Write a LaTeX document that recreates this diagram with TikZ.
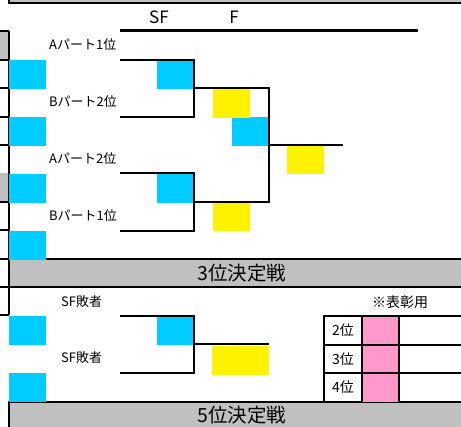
\documentclass[tikz,border=0pt]{standalone}
\usepackage{fontspec}
\setmainfont{Noto Sans CJK JP}
\usetikzlibrary{positioning}

\definecolor{slotcyan}{HTML}{00CCFF}
\definecolor{slotyellow}{HTML}{FFF200}
\definecolor{bandgray}{HTML}{C0C0C0}
\definecolor{slotpink}{HTML}{FF99CC}

\begin{document}
\begin{tikzpicture}[x=1pt,y=-1pt]
\tikzset{
  slot/.style={inner sep=0pt, minimum width=37pt, minimum height=29pt, anchor=north west},
  winner/.style={slot, fill=slotcyan},
  finalist/.style={slot, fill=slotyellow},
  seed/.style={font=\fontsize{13}{14}\selectfont, anchor=west, inner sep=0pt},
  title/.style={font=\fontsize{17}{18}\selectfont, inner sep=0pt},
  band/.style={draw=black, line width=1.4pt, fill=bandgray},
  tree/.style={line width=1.3pt},
  cell/.style={font=\fontsize{14}{15}\selectfont, inner sep=0pt}
}
\useasboundingbox (0,0) rectangle (461,427);

% top strip
\fill[bandgray] (9,0) rectangle (461,3);
\draw[line width=1.3pt] (9,0) -- (9,3) -- (461,3);

% left column
\fill[bandgray] (0,31) rectangle (9,60);
\fill[bandgray] (0,173) rectangle (9,202);
\draw[line width=1.3pt] (9,31) -- (9,315);
\foreach \y in {31,60,88,117,145,202,230,259,287,315}
  \draw[line width=1.3pt] (0,\y) -- (9,\y);

% bands
\draw[band] (9,259) rectangle (470,287);
\node[font=\fontsize{19.5}{20}\selectfont, inner sep=0pt] (band3) at (242,273) {3位決定戦};
\draw[band] (9,402) rectangle (470,440);
\node[font=\fontsize{19.5}{20}\selectfont, inner sep=0pt] (band5) at (242,415) {5位決定戦};

% header
\node[title] (sf) at (159,17) {SF};
\node[title] (f) at (234,17) {F};
\draw[line width=3pt] (120,31) -- (418,31);

% slots
\node[winner] (w1) at (9,60) {};
\node[winner] (w2) at (9,117) {};
\node[winner] (w3) at (9,174) {};
\node[winner] (w4) at (9,231) {};
\node[winner] (w5) at (9,316) {};
\node[winner] (w6) at (9,373) {};
\node[winner] (s1) at (157,60) {};
\node[winner] (s2) at (157,174) {};
\node[winner] (s3) at (157,316) {};
\node[winner] (fw) at (232,117) {};
\node[finalist] (y1) at (213,89) {};
\node[finalist] (y2) at (213,202) {};
\node[finalist] (y3) at (287,145) {};
\node[finalist, minimum width=57pt] (y4) at (212,346) {};

% seeds
\node[seed] (a1) at (49,45) {Aパート1位};
\node[seed] (b2) at (49,102) {Bパート2位};
\node[seed] (a2) at (49,159) {Aパート2位};
\node[seed] (b1) at (49,216) {Bパート1位};
\node[seed] (l1) at (61,302) {SF敗者};
\node[seed] (l2) at (61,358) {SF敗者};

% bracket points
\coordinate (p1) at (120,60);
\coordinate (p2) at (120,117);
\coordinate (p3) at (120,173);
\coordinate (p4) at (120,231);
\coordinate (p5) at (120,316);
\coordinate (p6) at (120,373);
\coordinate (m1) at (194,88);
\coordinate (m2) at (194,202);
\coordinate (m3) at (194,344);
\coordinate (q1) at (269,88);
\coordinate (q2) at (269,202);
\coordinate (q3) at (269,344);
\coordinate (q0) at (269,145);
\coordinate (champ) at (343,145);

\begin{scope}[tree]
\draw (p1) -| (m1) |- (p2);
\draw (p3) -| (m2) |- (p4);
\draw (p5) -| (m3) |- (p6);
\draw (m1) -- (q1) -- (q2) -- (m2);
\draw (m3) -- (q3);
\draw (q0) -- (champ);
\end{scope}

% award table
\node[cell] (note) at (400,302) {※表彰用};
\fill[slotpink] (362,316) rectangle (399,402);
\draw[line width=1.3pt] (324,402) -- (324,316) -- (470,316);
\draw[line width=1.3pt] (324,345) -- (470,345);
\draw[line width=1.3pt] (324,373) -- (470,373);
\draw[line width=1.3pt] (362,316) -- (362,402);
\draw[line width=1.3pt] (399,316) -- (399,402);
\node[cell] (r2) at (343,330) {2位};
\node[cell] (r3) at (343,359) {3位};
\node[cell] (r4) at (343,387) {4位};
\end{tikzpicture}
\end{document}
